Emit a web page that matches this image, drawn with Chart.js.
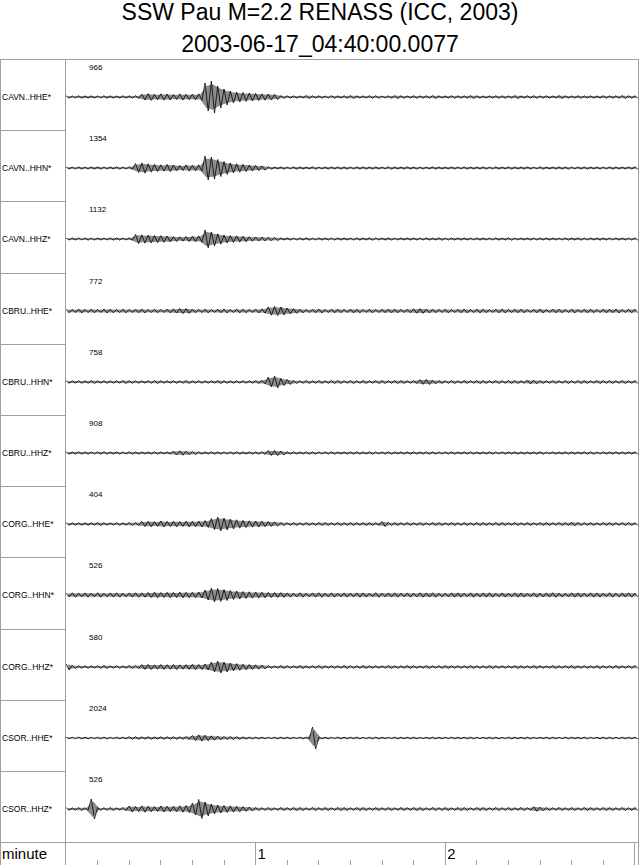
<!DOCTYPE html>
<html>
<head>
<meta charset="utf-8">
<title>SSW Pau M=2.2 RENASS (ICC, 2003)</title>
<script src="https://cdn.jsdelivr.net/npm/chart.js@4.4.1/dist/chart.umd.min.js"></script>
<style>
  body { margin: 0; background: #fff; font-family: "Liberation Sans", Arial, sans-serif; color: #000; }
  #page { position: relative; width: 640px; height: 865px; overflow: hidden; }
  .title { position: absolute; left: 0; width: 640px; text-align: center; font-size: 23px; line-height: 23px; white-space: nowrap; }
  .frame { position: absolute; border: 1px solid #a0a0a0; box-sizing: border-box; }
  .rule { position: absolute; background: #a0a0a0; }
  .station { position: absolute; left: 2px; font-size: 8.5px; line-height: 10px; white-space: nowrap; }
  .amp { position: absolute; left: 89px; font-size: 8px; line-height: 10px; }
  .axislabel { position: absolute; font-size: 15px; line-height: 16px; }
  canvas { position: absolute; }
</style>
</head>
<body>
<div id="page">
  <div class="title" style="top:1px">SSW Pau M=2.2 RENASS (ICC, 2003)</div>
  <div class="title" style="top:33px">2003-06-17_04:40:00.0077</div>
</div>
<script>
// Channels and the max amplitude printed over each trace
const channels = ['CAVN..HHE*', 'CAVN..HHN*', 'CAVN..HHZ*', 'CBRU..HHE*', 'CBRU..HHN*', 'CBRU..HHZ*',
                  'CORG..HHE*', 'CORG..HHN*', 'CORG..HHZ*', 'CSOR..HHE*', 'CSOR..HHZ*'];
const maxCounts = [966, 1354, 1132, 772, 758, 908, 404, 526, 580, 2024, 526];

// Trace envelopes (half peak-to-peak, display units), one value per 2 s bin from t = 0
const binSeconds = 2;
const cavnHHE = [1.2,1.0,1.3,1.1,1.2,1.0,1.3,1.2,1.1,1.3,1.2,1.4,
  3.0,3.4,2.8,3.2,3.0,2.6,3.1,2.7,2.9,3.2, 14,16,11,8, 6,5,4.5,4,3.6,3.2,3,2.6,
  1.4,1.2,1.3,1.1,1.5,1.2,1.3,1.0,1.4,1.2, 1.3,1.5,1.1,1.2,1.4,1.3,1.0,1.2,1.5,1.3,
  1.1,1.4,1.2,1.3,1.5,1.2,1.1,1.4,1.3,1.2, 1.5,1.3,1.1,1.2,1.4,1.3,1.2,1.5,1.1,1.3,
  1.4,1.2,1.3,1.1,1.5,1.3,1.2,1.4,1.2,1.3, 1.1,1.4,1.3,1.2,1.5,1.3,1.2];
const cavnHHN = [1.1,1.0,1.2,1.0,1.1,1.2,1.0,1.1,1.3,1.0,1.2,
  4.5,5.2,4.2,3.6,3.2,3.6,3.0,2.6,3.1,2.8,3.2, 12,11,8.5,6.5, 5,4.2,3.6,3,2.6,2.2,
  1.3,1.1,1.2,1.0,1.3,1.2,1.1,1.3,1.0,1.2, 1.1,1.3,1.2,1.0,1.2,1.3,1.1,1.2,1.0,1.3,
  1.2,1.1,1.3,1.2,1.0,1.1,1.3,1.2,1.1,1.2, 1.0,1.3,1.2,1.1,1.3,1.0,1.2,1.1,1.3,1.2,
  1.1,1.2,1.0,1.3,1.2,1.1,1.3,1.2,1.0,1.2, 1.3,1.1,1.2,1.0,1.3,1.2,1.1,1.2,1.3];
const cavnHHZ = [1.0,1.1,1.0,1.2,1.0,1.1,1.0,1.2,1.1,1.0,1.2,
  4.6,4.2,4.0,3.6,3.4,3.0, 2.5,2.2,2.6,2.8,3.2, 9,7,5.2, 4,3.5,3.1,2.8, 2.3,2.1,2.0,1.8,1.6,
  1.1,1.2,1.0,1.1,1.3,1.0,1.2,1.1,1.0,1.2, 1.1,1.0,1.2,1.1,1.3,1.0,1.1,1.2,1.0,1.1,
  1.2,1.1,1.0,1.2,1.1,1.3,1.0,1.1,1.2,1.1, 1.0,1.2,1.1,1.0,1.2,1.1,1.3,1.0,1.1,1.2,
  1.0,1.1,1.2,1.1,1.0,1.2,1.1,1.3,1.0,1.1, 1.2,1.1,1.0,1.2,1.1,1.0,1.2];
const cbruHHE = [1.8,1.6,2.0,1.7,1.9,1.6,2.0,1.8,1.7,1.9,1.6,1.8,2.0,1.7,1.8,1.6,1.9,2.1,
  2.6,2.4, 1.8,1.7,1.9,1.6,1.8,2.0,1.7,1.9,1.8,1.6,2.0,2.2, 4.2,4.6,4.0,3.0,2.4,
  1.9,1.7,1.8,2.0,1.6,1.9,1.8,1.7,2.0,1.8, 1.6,1.9,1.7,1.8,2.0,1.9,1.7,1.8,2.3,2.4,
  2.0,1.8,1.7,1.9,1.6,1.8,2.0,1.7,1.9,1.8, 1.6,1.9,2.0,1.7,1.8,1.9,1.6,1.8,2.0,1.7,
  1.9,1.8,1.6,2.0,1.7,1.9,1.8,1.6,1.9,1.8, 2.0,1.7,1.8,1.9];
const cbruHHN = [1.3,1.2,1.4,1.3,1.5,1.2,1.4,1.3,1.2,1.5, 1.4,1.3,1.2,1.4,1.5,1.3,1.2,1.4,1.3,1.5,
  1.2,1.4,1.3,1.2,1.5,1.4,1.3,1.2,1.4,1.3, 1.5,1.8, 5,6,3.6,2.5,
  1.5,1.4,1.6,1.3,1.5,1.4,1.6,1.5,1.3,1.6, 1.4,1.5,1.3,1.6,1.5,1.4,1.6,1.5,1.4,1.5,
  2.4,2.6,1.8,1.5,1.4,1.6,1.3,1.5,1.4,1.6, 1.5,1.3,1.6,1.4,1.5,1.6,1.4,2.0,1.8,1.5,
  1.4,1.6,1.3,1.5,1.4,1.6,1.5,1.3,1.6,1.4, 1.5,1.4,1.6,1.3,1.5];
const cbruHHZ = [1.2,1.1,1.3,1.2,1.0,1.2,1.3,1.1,1.2,1.0,1.3,1.2,1.1,1.2,1.3,1.1,1.2,
  2.0,2.2,1.8,1.6, 1.2,1.1,1.3,1.2,1.0,1.2,1.3,1.1,1.2,1.3,1.4, 2.5,2.6,2.0,
  1.3,1.2,1.1,1.3,1.2,1.0,1.2,1.3,1.1,1.2, 1.3,1.2,1.1,1.3,1.0,1.2,1.3,1.1,1.2,1.3,
  1.2,1.1,1.3,1.2,1.0,1.2,1.3,1.1,1.2,1.3, 1.1,1.2,1.3,1.0,1.2,1.1,1.3,1.2,1.1,1.2,
  1.3,1.0,1.2,1.1,1.3,1.2,1.1,1.2,1.3,1.0, 1.2,1.1,1.3,1.2,1.1,1.2];
const corgHHE = [1.3,1.2,1.4,1.3,1.2,1.5,1.3,1.2,1.4,1.3,1.5,1.6,
  2.6,2.8,2.4,3.0,2.6,2.8,2.5,2.9,2.7,3.0,3.4, 5.5,7,6,5,4.2, 3.6,3.2,3.0,2.8,2.5,2.2,
  1.5,1.4,1.6,1.3,1.5,1.4,1.6,1.5,1.3,1.6, 1.4,1.5,1.3,1.6,1.5,1.4,2.6,1.6,1.5,1.4,
  1.6,1.3,1.5,1.4,1.6,1.5,1.3,1.6,1.4,1.5, 1.3,1.6,1.5,1.4,1.6,1.5,1.3,1.6,1.4,1.5,
  1.3,1.6,1.5,1.4,1.6,1.5,1.8,1.6,1.4,1.5, 1.3,1.6,1.5,1.4,1.6,1.5,1.3];
const corgHHN = [2.0,2.2,1.9,2.1,2.0,2.3,1.9,2.1,2.2,2.0,2.1,2.3,2.2,
  2.6,2.8,2.5,2.7,2.6,2.9,2.7,2.8,3.0, 5,7,6.5,5.5,4.5,4, 3.5,3.2,3.0,2.8,2.6,2.5,2.4,
  2.1,2.0,2.2,1.9,2.1,2.3,2.0,2.2,1.9,2.1, 2.0,2.2,2.1,1.9,2.3,2.0,2.1,2.2,1.9,2.1,
  2.0,2.2,2.1,2.3,1.9,2.0,2.2,2.1,1.9,2.2, 2.0,2.1,2.3,1.9,2.1,2.0,2.2,2.1,1.9,2.2,
  2.0,2.1,2.3,2.0,1.9,2.2,2.1,2.0,2.2,2.1, 1.9,2.3,2.0,2.1,2.2,2.0];
const corgHHZ = [3.0,1.6,1.3,1.4,1.2,1.3,1.5,1.2,1.4,1.3,1.5,1.6,
  2.4,2.6,2.2,2.5,2.3,2.6,2.2,2.4,2.7,2.5,3.0, 5,6,5,4,3.4, 2.8,2.5,2.2,2.0,
  1.4,1.3,1.5,1.4,1.2,1.5,1.3,1.4,1.6,1.3, 1.4,1.2,1.5,1.4,1.3,1.5,1.2,1.4,1.3,1.5,
  1.4,1.3,1.6,1.4,1.2,1.5,1.3,1.4,1.5,1.3, 1.4,1.2,1.5,1.3,1.4,1.6,1.3,1.4,1.2,1.5,
  1.4,1.3,1.5,1.4,1.2,1.5,1.3,1.4,1.6,1.3, 1.4,1.2,1.5,1.3,1.4,1.5,1.3,1.4,1.5];
const csorHHE = [0.8,0.7,0.9,0.8,0.7,0.8,0.9,0.7,0.8,0.9,
  1.3,1.4,1.2,1.3,1.1,1.3,1.2,1.4,1.3,1.5, 2.6,3.2,2.8,2.2, 1.8,1.6,1.5,1.3,1.2,
  0.9,0.8,0.9,0.7,0.8,0.9,0.8,0.7,0.9,0.8, 11,
  0.9,0.8,0.7,0.9,0.8,0.8,0.9,0.7,0.8,0.9, 0.8,0.7,0.9,0.8,0.8,0.9,0.7,0.8,0.9,0.8,
  0.7,0.9,0.8,0.8,0.9,0.7,0.8,0.9,0.8,0.7, 0.9,0.8,0.8,0.9,0.7,0.8,0.9,0.8,0.7,0.9,
  0.8,0.8,0.9,0.7,0.8,0.9,0.8,0.7,0.9,0.8, 0.8];
const csorHHZ = [1.4,1.2,1.5,1.3, 10, 1.4,1.3,1.5,1.2,1.6,
  3.0,2.6,3.2,2.8,2.5,3.0,2.7,2.9,3.2,3.5, 6,9.5,7,5, 4,3.5,3.2,2.8,2.4,2.0,
  1.5,1.4,1.6,1.3,1.5,1.4,1.6,1.5,1.3,1.6, 1.4,1.5,1.3,1.6,1.5,1.4,1.6,1.5,1.3,1.5,
  1.4,1.6,1.3,1.5,1.4,1.6,1.5,1.3,1.6,1.4, 1.5,1.3,1.6,1.5,1.4,1.6,1.5,1.3,1.6,1.4,
  1.5,1.3,1.6,1.4,2.4,1.8,1.5,1.3,1.6,1.4, 1.5,1.3,1.6,1.5,1.4,1.6,1.5,1.3,1.6,1.4, 1.5];
const traces = [cavnHHE, cavnHHN, cavnHHZ, cbruHHE, cbruHHN, cbruHHZ,
                corgHHE, corgHHN, corgHHZ, csorHHE, csorHHZ];

// Time axis
const durationSeconds = 181;
const tickStepSeconds = 10;
const minuteLabels = [1, 2];

// Layout
const page = document.getElementById('page');
const frameTop = 59, rowH = 71.2, labelW = 65, plotLeft = 66, plotW = 572;
const axisTop = 842, baseline = 38, grey = '#a0a0a0';

function addEl(tag, cls, css, text) {
    const el = document.createElement(tag);
    if (cls) el.className = cls;
    Object.assign(el.style, css);
    if (text !== undefined) el.textContent = text;
    page.appendChild(el);
    return el;
}

addEl('div', 'frame', { left: '0px', top: frameTop + 'px', width: '639px', height: (865 - frameTop + 1) + 'px' });
addEl('div', 'rule', { left: labelW + 'px', top: frameTop + 'px', width: '1px', height: (865 - frameTop) + 'px' });
addEl('div', 'rule', { left: '0px', top: axisTop + 'px', width: '639px', height: '1px' });

// min/max decimated trace: each bin goes up to +env then down to -env
function zigzag(env) {
    const pts = [];
    env.forEach((a, i) => {
        pts.push({ x: i * binSeconds, y: a });
        pts.push({ x: i * binSeconds + binSeconds / 2, y: -a });
    });
    return pts;
}

// upper / lower envelope, filled in between to darken the dense parts
const envelope = (env, sign) => env.map((a, i) => ({ x: i * binSeconds + binSeconds / 4, y: sign * a * 0.8 }));

traces.forEach((env, k) => {
    const rowTop = Math.round(frameTop + k * rowH);
    if (k > 0) {
        addEl('div', 'rule', { left: '0px', top: rowTop + 'px', width: labelW + 'px', height: '1px' });
    }
    addEl('div', 'station', { top: (rowTop + baseline - 5) + 'px' }, channels[k]);
    addEl('div', 'amp', { top: (rowTop + 4) + 'px' }, String(maxCounts[k]));

    const h = Math.round(frameTop + (k + 1) * rowH) - rowTop;
    const cv = addEl('canvas', null, { left: plotLeft + 'px', top: rowTop + 'px' });
    cv.width = plotW;
    cv.height = h;

    new Chart(cv, {
        type: 'line',
        data: {
            datasets: [{
                data: envelope(env, 1),
                borderWidth: 0,
                pointRadius: 0,
                fill: false
            }, {
                data: envelope(env, -1),
                borderWidth: 0,
                pointRadius: 0,
                backgroundColor: 'rgba(0,0,0,0.45)',
                fill: '-1'
            }, {
                data: zigzag(env),
                borderColor: '#000',
                borderWidth: 0.8,
                pointRadius: 0,
                tension: 0,
                fill: false
            }]
        },
        options: {
            responsive: false,
            animation: false,
            events: [],
            layout: { padding: 0 },
            plugins: { legend: { display: false }, tooltip: { enabled: false } },
            scales: {
                x: { type: 'linear', display: false, min: 0, max: durationSeconds },
                y: { display: false, min: baseline - h, max: baseline }
            }
        }
    });
});

// Bottom time axis
addEl('div', 'axislabel', { left: '2px', top: '846px' }, 'minute');
const axisCanvas = addEl('canvas', null, { left: plotLeft + 'px', top: (axisTop + 1) + 'px' });
axisCanvas.width = plotW;
axisCanvas.height = 865 - axisTop - 1;

const isMajor = c => c.tick && c.tick.value > 0 && c.tick.value % 60 === 0;
const axisChart = new Chart(axisCanvas, {
    type: 'line',
    data: { datasets: [] },
    options: {
        responsive: false,
        animation: false,
        events: [],
        layout: { padding: 0 },
        plugins: { legend: { display: false }, tooltip: { enabled: false } },
        scales: {
            x: {
                type: 'linear',
                position: 'bottom',
                min: 0,
                max: durationSeconds,
                border: { display: false },
                ticks: { display: false, stepSize: tickStepSeconds, includeBounds: false },
                grid: {
                    drawOnChartArea: true,
                    tickLength: 5,
                    color: c => isMajor(c) ? grey : 'rgba(0,0,0,0)',
                    tickColor: c => c.tick && c.tick.value > 0 ? grey : 'rgba(0,0,0,0)'
                }
            },
            y: { display: false, min: 0, max: 1 }
        }
    }
});

minuteLabels.forEach(m => {
    const px = axisChart.scales.x.getPixelForValue(m * 60);
    addEl('div', 'axislabel', { left: (plotLeft + px + 2) + 'px', top: '846px' }, String(m));
});
</script>
</body>
</html>
